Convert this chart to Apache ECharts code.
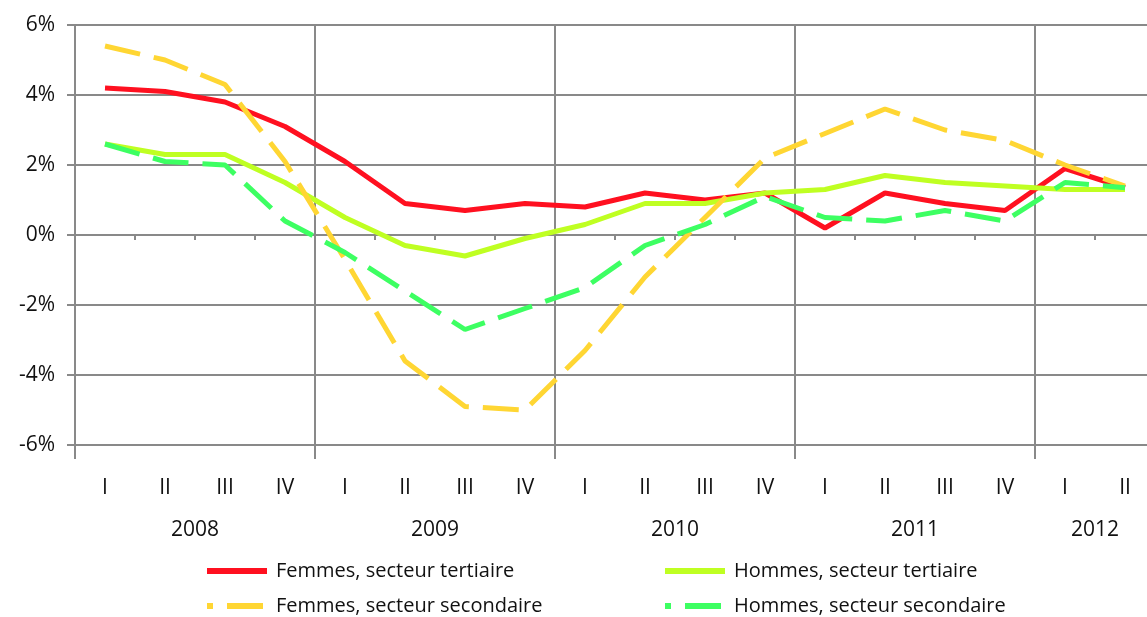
<!DOCTYPE html>
<html>
<head>
<meta charset="utf-8">
<script src="https://cdn.jsdelivr.net/npm/echarts@6/dist/echarts.min.js"></script>
<style>
  html, body { margin: 0; padding: 0; background: #fff; }
  #chart1 { width: 1147px; height: 617px; }
</style>
</head>
<body>
<div id="chart1"></div>
<script>
// trimestres et années
var quarters = ['I','II','III','IV','I','II','III','IV','I','II','III','IV','I','II','III','IV','I','II'];
var years = ['2008','2009','2010','2011','2012'];
var quartersPerYear = [4, 4, 4, 4, 2];

// séries (%)
var femmesTertiaire   = [4.2, 4.1, 3.8, 3.1, 2.1, 0.9, 0.7, 0.9, 0.8, 1.2, 1.0, 1.2, 0.2, 1.2, 0.9, 0.7, 1.9, 1.35];
var hommesTertiaire   = [2.6, 2.3, 2.3, 1.5, 0.5, -0.3, -0.6, -0.1, 0.3, 0.9, 0.9, 1.2, 1.3, 1.7, 1.5, 1.4, 1.3, 1.3];
var femmesSecondaire  = [5.4, 5.0, 4.3, 2.1, -0.7, -3.6, -4.9, -5.0, -3.3, -1.2, 0.5, 2.2, 2.9, 3.6, 3.0, 2.7, 2.0, 1.4];
var hommesSecondaire  = [2.6, 2.1, 2.0, 0.4, -0.5, -1.6, -2.7, -2.1, -1.5, -0.3, 0.3, 1.1, 0.5, 0.4, 0.7, 0.4, 1.5, 1.35];

// position du libellé de chaque année (au milieu de ses trimestres)
var yearAt = {};
var yearStart = {};
var start = 0;
for (var i = 0; i < years.length; i++) {
    yearStart[start] = true;
    yearAt[start + quartersPerYear[i] / 2] = years[i];
    start += quartersPerYear[i];
}

var gridColor = '#898989';
var font = 'Open Sans';

var myChart1 = echarts.init(document.getElementById('chart1'));

function makeLegend(left, names) {
    return {
        left: left, top: 561, orient: 'vertical', padding: 0,
        itemWidth: 60, itemHeight: 20, itemGap: 15,
        itemStyle: { opacity: 0 },
        lineStyle: { width: 6, dashOffset: 30 },
        textStyle: { fontSize: 20, color: '#111', fontFamily: font, padding: [0, 0, 0, 4] },
        data: names
    };
}

var option = {
    animation: false,
    textStyle: { fontFamily: font },
    grid: {
        left: 75,
        top: 25,
        width: 1080,
        height: 420,
        outerBoundsMode: 'none',
        containLabel: false
    },
    legend: [
        makeLegend(204, ['Femmes, secteur tertiaire', 'Femmes, secteur secondaire']),
        makeLegend(662, ['Hommes, secteur tertiaire', 'Hommes, secteur secondaire'])
    ],
    xAxis: [
        {
            type: 'category',
            data: quarters,
            boundaryGap: true,
            axisLine: { show: true, lineStyle: { color: gridColor, width: 2 } },
            axisTick: { show: true, interval: 0, length: 5, lineStyle: { color: gridColor, width: 2 } },
            axisLabel: { interval: 0, margin: 33, fontSize: 21, color: '#111', fontFamily: font },
            splitLine: { show: false }
        },
        {
            type: 'category',
            data: quarters,
            boundaryGap: true,
            position: 'bottom',
            axisLine: { show: false },
            axisTick: {
                show: true, length: 14,
                interval: function (idx) { return yearStart[idx] === true; },
                lineStyle: { color: gridColor, width: 2 }
            },
            axisLabel: { show: false },
            splitLine: {
                show: true,
                interval: function (idx) { return yearStart[idx] === true; },
                lineStyle: { color: gridColor, width: 2 }
            }
        },
        {
            type: 'value',
            min: 0,
            max: quarters.length,
            interval: 1,
            position: 'bottom',
            axisLine: { show: false },
            axisTick: { show: false },
            splitLine: { show: false },
            axisLabel: {
                margin: 75, fontSize: 21, color: '#111', fontFamily: font,
                showMinLabel: true, showMaxLabel: true,
                formatter: function (v) { return yearAt[v] || ''; }
            }
        }
    ],
    yAxis: {
        type: 'value',
        min: -6,
        max: 6,
        interval: 2,
        axisLine: { show: true, lineStyle: { color: gridColor, width: 2 } },
        axisTick: { show: true, length: 8, lineStyle: { color: gridColor, width: 2 } },
        axisLabel: { formatter: '{value}%', margin: 20, fontSize: 21, color: '#111', fontFamily: font },
        splitLine: { show: true, lineStyle: { color: gridColor, width: 2 } }
    },
    series: [
        {
            name: 'Femmes, secteur tertiaire',
            type: 'line',
            symbol: 'none',
            data: femmesTertiaire,
            lineStyle: { color: '#ff1020', width: 5 },
            itemStyle: { color: '#ff1020' }
        },
        {
            name: 'Hommes, secteur tertiaire',
            type: 'line',
            symbol: 'none',
            data: hommesTertiaire,
            lineStyle: { color: '#bfff22', width: 5 },
            itemStyle: { color: '#bfff22' }
        },
        {
            name: 'Femmes, secteur secondaire',
            type: 'line',
            symbol: 'none',
            data: femmesSecondaire,
            lineStyle: { color: '#ffd633', width: 5, type: [36, 14] },
            itemStyle: { color: '#ffd633' }
        },
        {
            name: 'Hommes, secteur secondaire',
            type: 'line',
            symbol: 'none',
            data: hommesSecondaire,
            lineStyle: { color: '#3dff62', width: 5, type: [36, 14] },
            itemStyle: { color: '#3dff62' }
        }
    ]
};
myChart1.setOption(option);
</script>
</body>
</html>
